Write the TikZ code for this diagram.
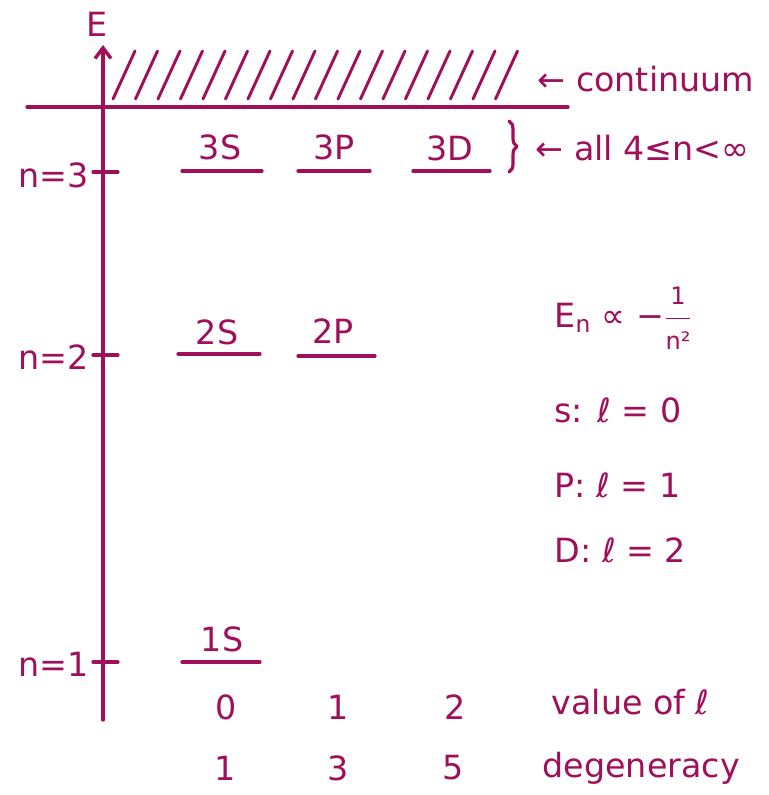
\documentclass[tikz,border=0pt]{standalone}
\usepackage{fontspec}
\setmainfont{DejaVu Sans}
\usetikzlibrary{arrows.meta,decorations.pathreplacing}
\definecolor{ink}{RGB}{160,16,90}

\begin{document}
\begin{tikzpicture}[x=0.75pt,y=-0.75pt,line cap=round,line join=round,
    axis/.style={draw=ink,line width=2.6pt,-{Straight Barb[length=8pt,width=12pt]}},
    stroke/.style={draw=ink,line width=2.4pt},
    hatch/.style={draw=ink,line width=2.2pt},
    level/.style={draw=ink,line width=2.4pt},
    hand/.style={text=ink,font=\fontsize{25}{29}\selectfont,inner sep=1pt},
    side/.style={hand,anchor=west}]
    \useasboundingbox (0,0) rectangle (768,795);

    % The energy axis with its ticks.
    \draw[axis] (103,720) -- (103,45);
    \node[hand] (elab) at (97,24) {E};
    \draw[stroke] (93,172) -- (118,172);
    \draw[stroke] (93,355) -- (118,355);
    \draw[stroke] (93,662) -- (118,662);
    \node[hand,anchor=east] (nthree) at (90,175) {n=3};
    \node[hand,anchor=east] (ntwo) at (90,357) {n=2};
    \node[hand,anchor=east] (none) at (90,664) {n=1};

    % The continuum: its lower edge and the hatching above it.
    \draw[stroke] (27,107) -- (568,107);
    \foreach \k in {0,...,17}
      \draw[hatch] (113+22.5*\k,99) -- ++(22,-48);
    \node[side] (cont) at (536,79) {← continuum};

    % The levels.
    \draw[level] (182,171) -- (262,171);
    \draw[level] (298,171) -- (370,171);
    \draw[level] (413,171) -- (490,171);
    \draw[level] (178,354) -- (260,354);
    \draw[level] (298,356) -- (375,356);
    \draw[level] (182,662) -- (260,662);
    \node[hand] (s3) at (220,147) {3S};
    \node[hand] (p3) at (334,147) {3P};
    \node[hand] (d3) at (450,148) {3D};
    \node[hand] (s2) at (217,332) {2S};
    \node[hand] (p2) at (333,331) {2P};
    \node[hand] (s1) at (222,639) {1S};

    % The brace over the n = 3 row.
    \draw[stroke,decorate,decoration={brace,amplitude=6pt}] (509,121) -- (509,172);
    \node[side] (alln) at (534,148) {← all 4≤n<∞};

    % Notes on the right.
    \node[side] (scale) at (553,318)
      {E\textsubscript{n} ∝ −\raisebox{1pt}{$\displaystyle\frac{\mbox{\fontsize{18}{20}\selectfont 1}}{\mbox{\fontsize{18}{20}\selectfont n²}}$}};
    \node[side] (sdef) at (553,410) {s: ℓ = 0};
    \node[side] (pdef) at (553,485) {P: ℓ = 1};
    \node[side] (ddef) at (553,550) {D: ℓ = 2};

    % The two rows under the diagram.
    \node[hand] (l0) at (226,707) {0};
    \node[hand] (l1) at (338,707) {1};
    \node[hand] (l2) at (455,707) {2};
    \node[side] (lrow) at (550,702) {value of ℓ};
    \node[hand] (g1) at (225,768) {1};
    \node[hand] (g3) at (338,768) {3};
    \node[hand] (g5) at (453,768) {5};
    \node[side] (grow) at (541,768) {degeneracy};
  \end{tikzpicture}
\end{document}
